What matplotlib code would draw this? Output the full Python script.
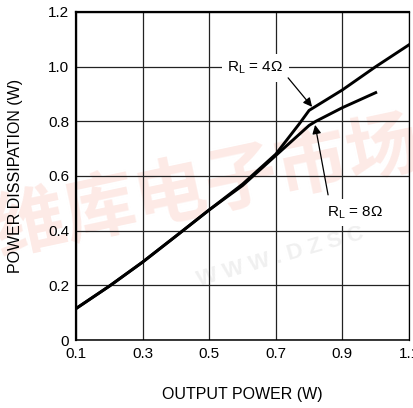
import matplotlib
matplotlib.use("Agg")
import matplotlib.pyplot as plt

plt.rcParams["font.family"] = ["Liberation Sans", "DejaVu Sans"]
plt.rcParams["mathtext.default"] = "regular"

# power dissipation vs output power
out_4ohm = [0.1, 0.2, 0.3, 0.4, 0.5, 0.6, 0.7, 0.77, 0.80, 0.9, 1.0, 1.1]
pd_4ohm = [0.115, 0.197, 0.285, 0.38, 0.476, 0.57, 0.68, 0.79, 0.84, 0.915, 1.0, 1.08]

out_8ohm = [0.1, 0.2, 0.3, 0.4, 0.5, 0.6, 0.7, 0.8, 0.82, 0.9, 1.0]
pd_8ohm = [0.115, 0.197, 0.285, 0.38, 0.476, 0.565, 0.675, 0.785, 0.80, 0.85, 0.905]

x_ticks = [0.1, 0.3, 0.5, 0.7, 0.9, 1.1]
x_labels = ["0.1", "0.3", "0.5", "0.7", "0.9", "1.1"]
y_ticks = [0, 0.2, 0.4, 0.6, 0.8, 1.0, 1.2]
y_labels = ["0", "0.2", "0.4", "0.6", "0.8", "1.0", "1.2"]

label_4 = r"R$_{L}$ = 4Ω"
label_8 = r"R$_{L}$ = 8Ω"

fig = plt.figure(figsize=(4.14, 4.08), dpi=100)

# faint site watermark, kept behind the chart
fig.text(0.50, 0.54, "维库电子市场", family=["Noto Sans CJK SC"], fontsize=52,
         fontweight="bold", color="#fdeae6", rotation=12, ha="center", va="center", zorder=-1)
fig.text(0.47, 0.37, "W W W . D Z S C", fontsize=16, fontweight="bold",
         color="#f0f0f0", rotation=16, ha="left", va="center", zorder=-1)

ax = fig.add_axes([76 / 414, 68 / 408, 333 / 414, 328 / 408])
ax.patch.set_alpha(0)

ax.plot(out_4ohm, pd_4ohm, color="black", lw=2.1, solid_joinstyle="round", zorder=3)
ax.plot(out_8ohm, pd_8ohm, color="black", lw=2.1, solid_joinstyle="round", zorder=3)

ax.set_xlim(0.1, 1.1)
ax.set_ylim(0, 1.2)
ax.set_xticks(x_ticks)
ax.set_xticklabels(x_labels)
ax.set_yticks(y_ticks)
ax.set_yticklabels(y_labels)
ax.tick_params(length=0, labelsize=11, pad=5)
ax.grid(True, color="#222222", lw=0.9)
ax.set_axisbelow(True)

for side in ["top", "left"]:
    ax.spines[side].set_linewidth(1.6)
ax.spines["bottom"].set_linewidth(1.1)
ax.spines["right"].set_linewidth(0.9)

ax.set_xlabel("OUTPUT POWER (W)", fontsize=11.5, labelpad=19)
ax.set_ylabel("POWER DISSIPATION (W)", fontsize=11.5, labelpad=18)

box = dict(boxstyle="square,pad=0.35", fc="white", ec="none")
arrow = dict(arrowstyle="-|>", color="black", lw=0.9, mutation_scale=13,
             shrinkA=0, shrinkB=0)

ax.text(0.638, 0.995, label_4, fontsize=11, ha="center", va="center", bbox=box, zorder=4)
ax.annotate("", xy=(0.809, 0.853), xytext=(0.737, 0.959), arrowprops=arrow, zorder=4)

ax.text(0.938, 0.465, label_8, fontsize=11, ha="center", va="center", bbox=box, zorder=4)
ax.annotate("", xy=(0.818, 0.787), xytext=(0.857, 0.531), arrowprops=arrow, zorder=4)

fig.savefig("out.png", dpi=100)
